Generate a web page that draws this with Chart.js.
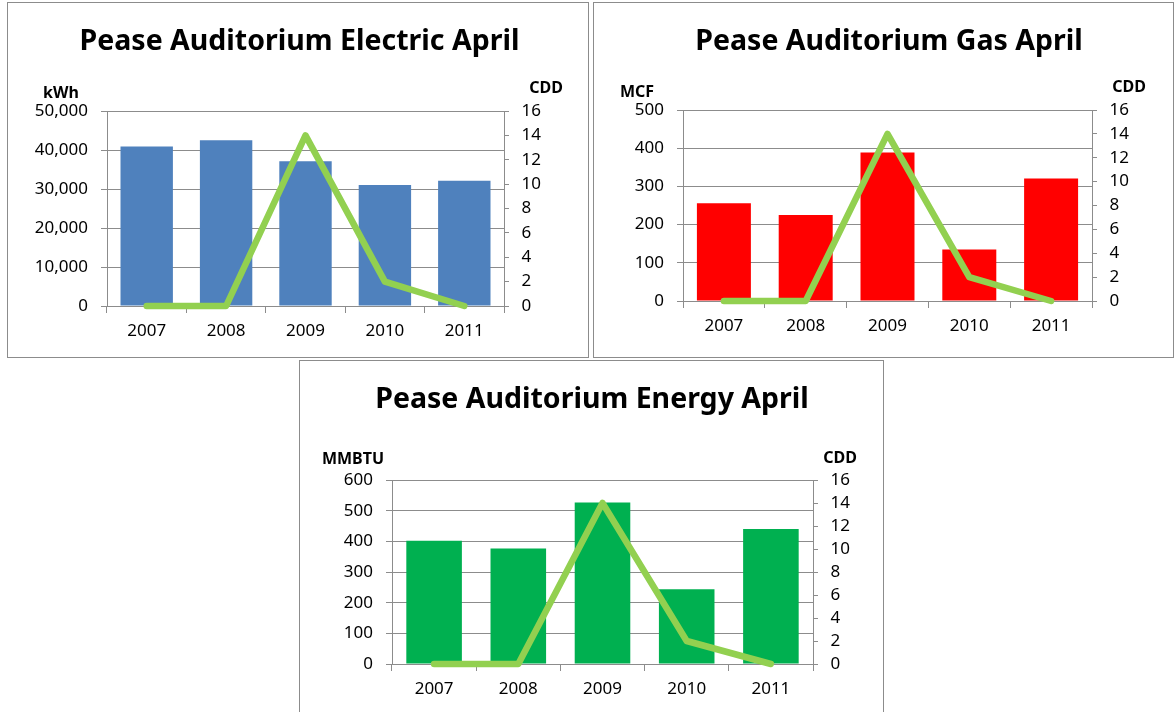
<!DOCTYPE html>
<html lang="en">
<head>
<meta charset="utf-8">
<title>Pease Auditorium April</title>
<script src="https://cdn.jsdelivr.net/npm/chart.js@4.4.0/dist/chart.umd.min.js"></script>
<style>
  html, body { margin: 0; padding: 0; background: #fff; }
  body { width: 1174px; height: 712px; position: relative; overflow: hidden; }
  .frame { position: absolute; border: 1px solid #8c8c8c; box-sizing: border-box; }
  canvas { position: absolute; }
</style>
</head>
<body>
<div class="frame" id="electricFrame"></div>
<canvas id="electricChart"></canvas>
<div class="frame" id="gasFrame"></div>
<canvas id="gasChart"></canvas>
<div class="frame" id="energyFrame"></div>
<canvas id="energyChart"></canvas>

<script>
// categories
const years = ['2007', '2008', '2009', '2010', '2011'];

// cooling degree days (right axis, same on all three charts)
const cddValues = [0, 0, 14, 2, 0];

// bar series
const electricKwh = [40900, 42500, 37100, 31000, 32100];
const gasMcf = [256, 225, 389, 135, 321];
const energyMmbtu = [402, 377, 527, 244, 440];

// tick labels
const kwhTicks = [0, 10000, 20000, 30000, 40000, 50000];
const mcfTicks = [0, 100, 200, 300, 400, 500];
const mmbtuTicks = [0, 100, 200, 300, 400, 500, 600];
const cddTicks = [0, 2, 4, 6, 8, 10, 12, 14, 16];

const gridColor = '#8c8c8c';
const tickFont = { family: "'Noto Sans', sans-serif", size: 17 };

Chart.defaults.font.family = "'Noto Sans', sans-serif";
Chart.defaults.color = '#000';

/**
 * plugin that writes the chart title and the two unit labels
 */
function textPlugin(items) {
    return {
        id: 'boxText',
        afterDraw(chart) {
            const ctx = chart.ctx;
            ctx.save();
            ctx.fillStyle = '#000';
            ctx.textAlign = 'center';
            ctx.textBaseline = 'alphabetic';
            items.forEach(item => {
                ctx.font = `bold ${item.size}px 'Noto Sans', sans-serif`;
                ctx.fillText(item.text, item.x, item.y);
            });
            ctx.restore();
        }
    };
}

function useTicks(values) {
    return scale => {
        scale.ticks = values.map(v => ({ value: v }));
    };
}

/**
 * build one framed chart; box and plot are page coordinates
 */
function makeChart(name, box, plot, barValues, barColor, leftTicks, texts) {
    const frame = document.getElementById(name + 'Frame');
    frame.style.left = box.x + 'px';
    frame.style.top = box.y + 'px';
    frame.style.width = box.w + 'px';
    frame.style.height = box.h + 'px';

    const canvas = document.getElementById(name + 'Chart');
    canvas.width = box.w;
    canvas.height = box.h;
    canvas.style.left = box.x + 'px';
    canvas.style.top = box.y + 'px';

    const items = texts.map(t => ({ text: t.text, size: t.size, x: t.x - box.x, y: t.y - box.y }));

    return new Chart(canvas, {
        type: 'bar',
        data: {
            labels: years,
            datasets: [
                {
                    type: 'line',
                    label: 'CDD',
                    data: cddValues,
                    yAxisID: 'yCdd',
                    borderColor: '#92D050',
                    borderWidth: 6.5,
                    borderCapStyle: 'round',
                    borderJoinStyle: 'round',
                    pointRadius: 0,
                    pointHoverRadius: 0,
                    tension: 0,
                    fill: false,
                    clip: false,
                    order: 0
                },
                {
                    type: 'bar',
                    data: barValues,
                    yAxisID: 'y',
                    backgroundColor: barColor,
                    barPercentage: 0.66,
                    categoryPercentage: 1,
                    order: 1
                }
            ]
        },
        options: {
            responsive: false,
            animation: false,
            events: [],
            layout: { padding: { top: plot.t - box.y, left: 0, right: 0, bottom: 0 } },
            plugins: {
                legend: { display: false },
                tooltip: { enabled: false },
                title: { display: false }
            },
            scales: {
                x: {
                    offset: true,
                    grid: { offset: true, drawOnChartArea: false, drawTicks: true, tickLength: 7, color: gridColor },
                    border: { color: gridColor },
                    ticks: { color: '#000', font: tickFont, padding: 8, maxRotation: 0, autoSkip: false },
                    afterFit: s => { s.height = box.y + box.h - plot.b; }
                },
                y: {
                    position: 'left',
                    min: leftTicks[0],
                    max: leftTicks[leftTicks.length - 1],
                    afterBuildTicks: useTicks(leftTicks),
                    grid: { color: gridColor, tickLength: 6 },
                    border: { color: gridColor },
                    ticks: {
                        color: '#000',
                        font: tickFont,
                        padding: 13,
                        autoSkip: false,
                        callback: v => v.toLocaleString('en-US')
                    },
                    afterFit: s => { s.width = plot.l - box.x; }
                },
                yCdd: {
                    position: 'right',
                    min: cddTicks[0],
                    max: cddTicks[cddTicks.length - 1],
                    afterBuildTicks: useTicks(cddTicks),
                    grid: { drawOnChartArea: false, tickLength: 5, color: gridColor },
                    border: { color: gridColor },
                    ticks: { color: '#000', font: tickFont, padding: 12.5, autoSkip: false },
                    afterFit: s => { s.width = box.x + box.w - plot.r; }
                }
            }
        },
        plugins: [textPlugin(items)]
    });
}

makeChart('electric',
    { x: 7, y: 2, w: 582, h: 356 },
    { l: 107, r: 504, t: 111, b: 306 },
    electricKwh, '#4F81BD', kwhTicks,
    [
        { text: 'Pease Auditorium Electric April', x: 299.5, y: 50, size: 28.5 },
        { text: 'kWh', x: 61, y: 98, size: 16 },
        { text: 'CDD', x: 546, y: 93, size: 16 }
    ]);

makeChart('gas',
    { x: 593, y: 2, w: 581, h: 356 },
    { l: 683, r: 1092, t: 110, b: 301 },
    gasMcf, '#FF0000', mcfTicks,
    [
        { text: 'Pease Auditorium Gas April', x: 889, y: 50, size: 28.5 },
        { text: 'MCF', x: 637, y: 97, size: 16 },
        { text: 'CDD', x: 1129, y: 92, size: 16 }
    ]);

makeChart('energy',
    { x: 299, y: 360, w: 585, h: 356 },
    { l: 392, r: 813, t: 480, b: 664 },
    energyMmbtu, '#00B050', mmbtuTicks,
    [
        { text: 'Pease Auditorium Energy April', x: 592, y: 408, size: 28.5 },
        { text: 'MMBTU', x: 353, y: 464, size: 16 },
        { text: 'CDD', x: 840, y: 463, size: 16 }
    ]);
</script>
</body>
</html>
